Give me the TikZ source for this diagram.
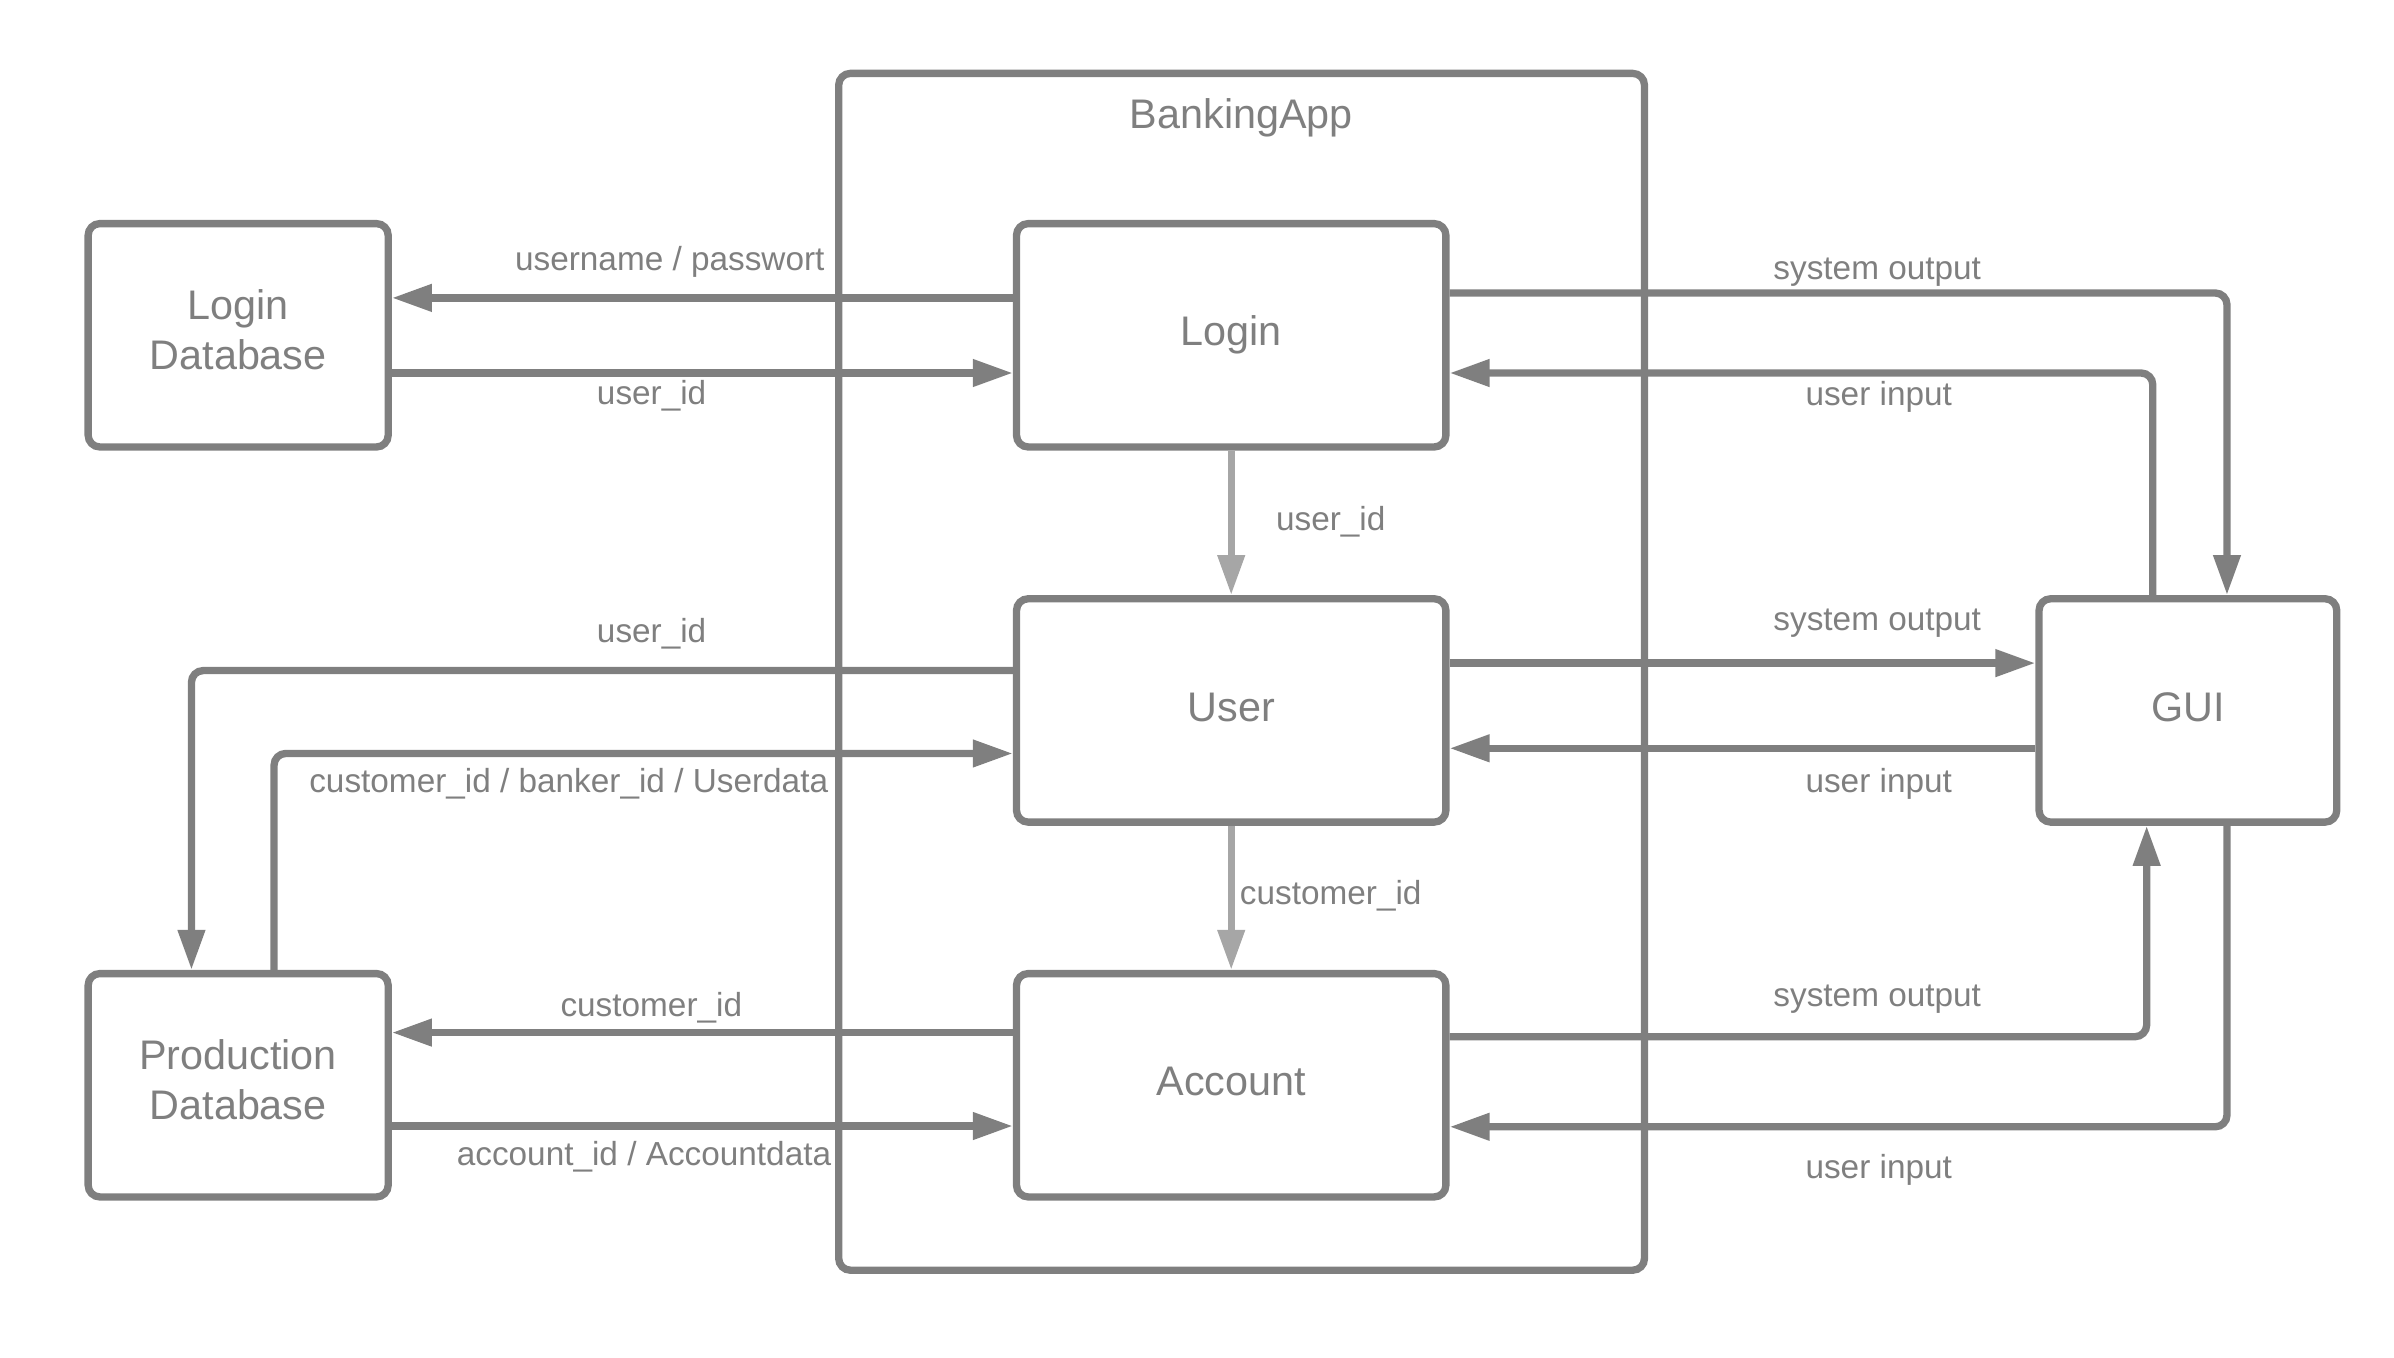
\documentclass[tikz,border=0pt]{standalone}
\usepackage{fontspec}
\setmainfont{Liberation Sans}
\usetikzlibrary{arrows.meta}
\definecolor{lc}{HTML}{7F7F7F}
\definecolor{ll}{HTML}{A6A6A6}
\newcommand{\lowpad}[1]{\rule[-#1]{0pt}{0pt}}
\begin{document}
\begin{tikzpicture}[x=0.458pt,y=-0.458pt,
  box/.style={draw=lc, line width=2.2pt, rounded corners=3.5pt, text=lc,
    font=\fontsize{12.4}{15}\selectfont, align=center, inner sep=0pt},
  dbbox/.style={box, minimum width=90pt, minimum height=67pt},
  mainbox/.style={box, minimum width=128.8pt, minimum height=67pt},
  guibox/.style={box, minimum width=89.3pt, minimum height=67pt},
  flow/.style={draw=lc, line width=2.2pt, rounded corners=3.5pt,
    -{Triangle[length=12pt,width=7.8pt]}},
  flowlight/.style={flow, draw=ll},
  lab/.style={text=lc, font=\fontsize{10}{12}\selectfont, anchor=base, inner sep=0pt}
]
\useasboundingbox (0,0) rectangle (1568,889.4);

% container
\node[draw=lc, line width=2.2pt, rounded corners=3.5pt, minimum width=241.7pt,
  minimum height=359pt, inner sep=0pt] (app) at (813.2,440) {};
\node[text=lc, font=\fontsize{12.4}{15}\selectfont, anchor=base, inner sep=0pt] (apptitle) at (813,84) {BankingApp};

% boxes
\node[dbbox] (ldb) at (156,219.6) {Login\\Database\lowpad{3.6pt}};
\node[dbbox] (pdb) at (156,710.8) {Production\\Database\lowpad{3.6pt}};
\node[mainbox] (login) at (806.4,219.6) {Login};
\node[mainbox] (user) at (806.4,465.3) {User\lowpad{1.8pt}};
\node[mainbox] (acc) at (806.4,710.8) {Account\lowpad{2.2pt}};
\node[guibox] (gui) at (1433,465.3) {GUI\lowpad{1.8pt}};

% connectors
\draw[flow] (login.west |- 0,195.1) -- (ldb.east |- 0,195.1);
\draw[flow] (ldb.east |- 0,244.3) -- (login.west |- 0,244.3);
\draw[flowlight] (login.south) -- (user.north);
\draw[flowlight] (user.south) -- (acc.north);
\draw[flow] (user.west |- 0,439.2) -| (pdb.north -| 125.4,0);
\draw[flow] (pdb.north -| 179.5,0) |- (user.west |- 0,493.5);
\draw[flow] (acc.west |- 0,676.3) -- (pdb.east |- 0,676.3);
\draw[flow] (pdb.east |- 0,737.5) -- (acc.west |- 0,737.5);
\draw[flow] (login.east |- 0,191.9) -| (gui.north -| 1458.6,0);
\draw[flow] (gui.north -| 1410,0) |- (login.east |- 0,244.3);
\draw[flow] (user.east |- 0,434.3) -- (gui.west |- 0,434.3);
\draw[flow] (gui.west |- 0,490.1) -- (user.east |- 0,490.1);
\draw[flow] (acc.east |- 0,679) -| (gui.south -| 1406,0);
\draw[flow] (gui.south -| 1458.6,0) |- (acc.east |- 0,738);

% labels
\node[lab] (l1) at (438.7,177.3) {username / passwort};
\node[lab] (l2) at (426.8,264.6) {user\_id};
\node[lab] (l3) at (871.6,347.5) {user\_id};
\node[lab] (l4) at (871.6,592.4) {customer\_id};
\node[lab] (l5) at (426.8,420.5) {user\_id};
\node[lab] (l6) at (372.5,518.9) {customer\_id / banker\_id / Userdata};
\node[lab] (l7) at (426.6,665.5) {customer\_id};
\node[lab] (l8) at (421.8,763.2) {account\_id / Accountdata};
\node[lab] (l9) at (1229.5,183) {system output};
\node[lab] (l10) at (1230.5,265.3) {user input};
\node[lab] (l11) at (1229.5,413) {system output};
\node[lab] (l12) at (1230.5,519) {user input};
\node[lab] (l13) at (1229.5,659) {system output};
\node[lab] (l14) at (1230.5,772) {user input};
\end{tikzpicture}
\end{document}
